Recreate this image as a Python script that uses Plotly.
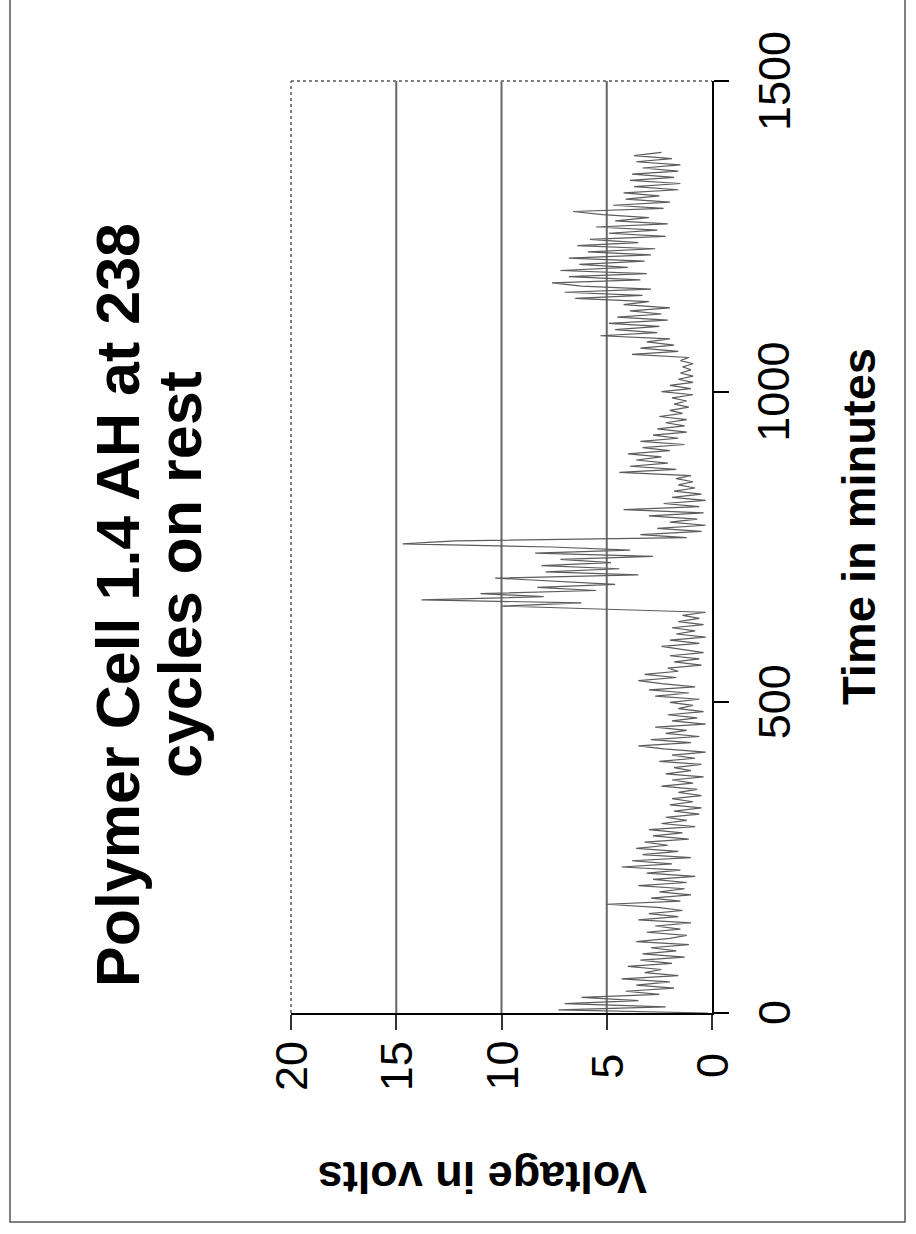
import plotly.graph_objects as go

# ---- data ----
sample_interval_min = 5
voltage_v = [
    0.2, 7.3, 2.2, 7.0, 3.5, 6.2, 2.5, 4.1, 1.8, 3.6,
    2.0, 4.3, 1.6, 3.2, 2.4, 4.0, 1.9, 3.4, 1.3, 3.3,
    1.7, 2.9, 1.1, 3.6, 2.0, 1.2, 3.1, 1.5, 2.7, 1.0,
    3.5, 1.6, 3.0, 1.4, 2.6, 5.0, 1.5, 2.9, 1.0, 2.5,
    1.3, 3.5, 1.2, 2.8, 0.8, 3.1, 1.5, 4.3, 1.9, 3.8,
    1.0, 3.3, 1.6, 3.6, 2.1, 3.2, 1.1, 2.8, 1.4, 3.0,
    0.8, 2.4, 1.2, 2.2, 0.6, 1.8, 0.5, 2.0, 0.9, 1.9,
    0.5, 1.6, 0.7, 2.4, 0.9, 1.9, 0.4, 2.2, 1.0, 1.8,
    0.5, 2.5, 0.8, 1.9, 0.3, 2.3, 3.5, 1.0, 2.9, 0.6,
    2.2, 1.2, 2.7, 0.3, 1.9, 0.7, 2.1, 0.4, 1.6, 0.9,
    2.0, 0.6, 2.7, 1.1, 3.0, 0.8, 2.4, 3.5, 1.7, 3.2,
    1.6, 2.1, 0.5, 1.8, 0.6, 2.0, 0.4, 1.5, 2.4, 0.6,
    2.0, 0.3, 1.7, 0.8, 1.9, 0.4, 1.6, 0.6, 1.4, 0.3,
    5.8, 10.0, 6.2, 13.8, 8.0, 11.0, 5.5, 8.3, 4.6, 7.8,
    10.3, 3.5, 7.9, 4.4, 8.1, 4.8, 7.2, 2.8, 8.4, 3.9,
    7.6, 14.7, 12.2, 1.2, 3.4, 0.5, 2.6, 0.3, 2.0, 0.7,
    3.0, 0.4, 4.2, 0.6, 2.3, 0.3, 1.9, 0.5, 1.8, 0.8,
    1.6, 0.9, 1.7, 1.0, 4.4, 1.7, 3.9, 2.1, 3.6, 2.4,
    4.0, 2.0, 3.3, 1.3, 3.4, 1.6, 2.8, 1.2, 2.6, 1.3,
    2.2, 1.2, 2.5, 1.4, 2.0, 1.1, 1.8, 1.2, 1.9, 0.9,
    2.4, 1.0, 2.0, 0.9, 1.6, 0.9, 1.5, 1.0, 1.4, 0.9,
    1.5, 1.1, 3.8, 1.6, 3.4, 1.8, 3.1, 2.0, 5.3, 2.6,
    4.6, 2.5, 4.9, 2.1, 4.5, 2.4, 3.9, 2.0, 4.2, 3.0,
    6.5, 3.3, 7.0, 2.9, 6.2, 7.6, 3.4, 6.8, 3.1, 7.2,
    4.0, 6.3, 3.2, 6.8, 2.9, 5.9, 2.7, 6.4, 3.5, 5.8,
    2.2, 4.9, 2.6, 5.5, 2.1, 4.6, 3.0, 5.2, 6.6, 2.3,
    4.7, 2.0, 4.1, 2.5, 4.2, 1.6, 3.7, 1.5, 3.9, 1.8,
    3.8, 1.6, 3.3, 1.5, 3.6, 1.9, 3.7, 2.4,
]
time_min = [i * sample_interval_min for i in range(len(voltage_v))]

voltage_ticks = [20, 15, 10, 5, 0]
voltage_tick_labels = ["20", "15", "10", "5", "0"]
time_ticks = [0, 500, 1000, 1500]
time_tick_labels = ["0", "500", "1000", "1500"]
grid_voltages = [5, 10, 15]

title_line1 = "Polymer Cell 1.4 AH at 238"
title_line2 = "cycles on rest"
voltage_title = "Voltage in volts"
time_title = "Time in minutes"

# ---- layout geometry (pixels) ----
W, H = 916, 1234
L, R, T, B = 291, 712, 81, 1013
pw, ph = R - L, B - T


def px(x):
    return (x - L) / pw


def py(y):
    return (B - y) / ph


FONT = "Liberation Sans, Arial, Helvetica, sans-serif"

fig = go.Figure()
fig.add_trace(go.Scatter(
    x=voltage_v, y=time_min, mode="lines",
    line=dict(color="#5c5c5c", width=1.2),
    hoverinfo="skip", showlegend=False,
))

shapes = []
for gv in grid_voltages:
    shapes.append(dict(type="line", xref="x", yref="paper", x0=gv, x1=gv, y0=0, y1=1,
                       line=dict(color="#666666", width=2), layer="below"))
# dotted frame (top and left)
shapes.append(dict(type="line", xref="paper", yref="paper", x0=0, x1=1, y0=1, y1=1,
                   line=dict(color="#808080", width=2, dash="dot")))
shapes.append(dict(type="line", xref="paper", yref="paper", x0=0, x1=0, y0=0, y1=1,
                   line=dict(color="#808080", width=2, dash="dot")))
# outer border
shapes.append(dict(type="path", xref="paper", yref="paper",
                   path=f"M {px(10)},{py(-2)} L {px(10)},{py(1222)} L {px(905)},{py(1222)} L {px(905)},{py(-2)}",
                   line=dict(color="#555555", width=1.5)))

annotations = []
for v, lab in zip(voltage_ticks, voltage_tick_labels):
    annotations.append(dict(x=v, y=py(1066), xref="x", yref="paper", text=lab,
                            textangle=-90, showarrow=False, xanchor="center", yanchor="middle",
                            font=dict(family=FONT, size=45, color="black")))
for t, lab in zip(time_ticks, time_tick_labels):
    annotations.append(dict(x=px(774), y=t, xref="paper", yref="y", text=lab,
                            textangle=-90, showarrow=False, xanchor="center", yanchor="middle",
                            font=dict(family=FONT, size=45, color="black")))
annotations.append(dict(x=px(118), y=py(605), xref="paper", yref="paper",
                        text=f"<b>{title_line1}</b>", textangle=-90, showarrow=False,
                        xanchor="center", yanchor="middle",
                        font=dict(family=FONT, size=61, color="black")))
annotations.append(dict(x=px(180), y=py(575), xref="paper", yref="paper",
                        text=f"<b>{title_line2}</b>", textangle=-90, showarrow=False,
                        xanchor="center", yanchor="middle",
                        font=dict(family=FONT, size=61, color="black")))
annotations.append(dict(x=px(483), y=py(1178), xref="paper", yref="paper",
                        text=f"<b>{voltage_title}</b>", textangle=180, showarrow=False,
                        xanchor="center", yanchor="middle",
                        font=dict(family=FONT, size=45, color="black")))
annotations.append(dict(x=px(858), y=py(527), xref="paper", yref="paper",
                        text=f"<b>{time_title}</b>", textangle=-90, showarrow=False,
                        xanchor="center", yanchor="middle",
                        font=dict(family=FONT, size=47, color="black")))

fig.update_layout(
    width=W, height=H,
    margin=dict(l=L, r=W - R, t=T, b=H - B, pad=0),
    paper_bgcolor="white", plot_bgcolor="white",
    shapes=shapes, annotations=annotations,
    xaxis=dict(range=[20, 0], showgrid=False, zeroline=False, showline=True,
               linecolor="black", linewidth=2, ticks="outside", ticklen=15,
               tickwidth=2, tickcolor="#333333", tickvals=voltage_ticks,
               showticklabels=False, fixedrange=True),
    yaxis=dict(range=[0, 1500], side="right", showgrid=False, zeroline=False,
               showline=True, linecolor="black", linewidth=1.5, ticks="outside",
               ticklen=15, tickwidth=2, tickcolor="black", tickvals=time_ticks,
               showticklabels=False, fixedrange=True),
)

fig.write_html("out.html")
